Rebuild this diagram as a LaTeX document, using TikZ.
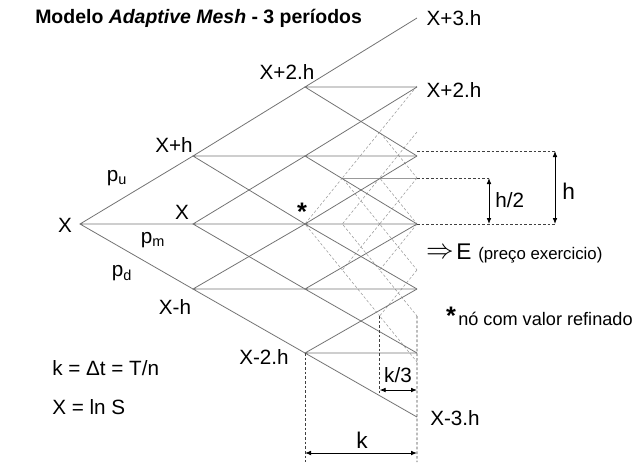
\documentclass[tikz,border=0pt]{standalone}
\usepackage{fontspec}
\setmainfont{Liberation Sans}
\usetikzlibrary{arrows.meta}

\begin{document}
\begin{tikzpicture}[
    x=0.75pt, y=-0.75pt,
    lattice/.style={draw=black!55, line width=0.6pt},
    fine/.style={draw=black!40, line width=0.4pt, dash pattern=on 2pt off 1.5pt},
    guide/.style={draw=black!75, line width=0.5pt, dash pattern=on 2pt off 1.5pt},
    dim/.style={{Latex[length=4.5pt,width=3.5pt]}-{Latex[length=4.5pt,width=3.5pt]}, line width=0.6pt},
    lbl/.style={inner sep=0pt, font=\fontsize{15.5}{18}\selectfont},
    small/.style={inner sep=0pt, font=\fontsize{12.6}{15}\selectfont},
    starmark/.style={inner sep=0pt, anchor=base, font=\fontsize{19}{20}\selectfont\bfseries}
]
  \useasboundingbox (0,0) rectangle (637,465);

  % coarse lattice: time columns and price rows
  \foreach \t/\x in {0/80,1/193,2/305,3/417}
    \foreach \j/\y in {3/18,2/87,1/156,0/224,-1/289,-2/353,-3/417}
      \coordinate (c\t\j) at (\x,\y);

  % refined mesh: k/3 in time, h/2 in price
  \foreach \m in {0,...,3}
    \foreach \n in {-3,...,3}
      \coordinate (f\m\n) at ({305+37.33*\m},{224-46*\n});

  \foreach \m in {0,1,2}{
    \pgfmathtruncatemacro\s{\m+1}
    \pgfmathtruncatemacro\lo{-\m}
    \foreach \n in {\lo,...,\m}{
      \pgfmathtruncatemacro\up{\n+1}
      \pgfmathtruncatemacro\dn{\n-1}
      \draw[fine] (f\s\up) -- (f\m\n) -- (f\s\dn);
    }
  }
  \draw[lattice, draw=black!40, line width=0.4pt] (f11) -- (f31);

  \foreach \t in {0,1,2}{
    \pgfmathtruncatemacro\s{\t+1}
    \pgfmathtruncatemacro\lo{-\t}
    \foreach \j in {\lo,...,\t}{
      \pgfmathtruncatemacro\up{\j+1}
      \pgfmathtruncatemacro\dn{\j-1}
      \draw[lattice] (c\s\up) -- (c\t\j) -- (c\s\dn) (c\t\j) -- (c\s\j);
    }
  }

  % title
  \node[anchor=west, inner sep=0pt, font=\fontsize{14.6}{18}\selectfont\bfseries] (title) at (35,18)
    {Modelo \textit{Adaptive Mesh} - 3 períodos};

  % node labels
  \node[lbl] (lx0) at (65,225) {X};
  \node[lbl] (lx1) at (182,212) {X};
  \node[lbl] (lup1) at (174,145) {X+h};
  \node[lbl] (lup2) at (287,72) {X+2.h};
  \node[lbl] (lup3) at (454,18) {X+3.h};
  \node[lbl] (lup2r) at (454,90) {X+2.h};
  \node[lbl] (ldn1) at (175,307) {X-h};
  \node[lbl] (ldn2) at (264,357) {X-2.h};
  \node[lbl] (ldn3) at (455,418) {X-3.h};
  \node[lbl] (pu) at (117,178) {p\textsubscript{u}};
  \node[lbl] (pm) at (153,240) {p\textsubscript{m}};
  \node[lbl] (pd) at (122,273) {p\textsubscript{d}};
  \node[starmark] (star) at (302,220) {*};

  % strike and legend
  \node[inner sep=0pt, font=\fontsize{20}{22}\selectfont] (arr) at (440,253) {$\Rightarrow$};
  \node[lbl, anchor=west, font=\fontsize{17}{20}\selectfont] (strike) at (456,252) {E};
  \node[small, anchor=west] (strikeTxt) at (478,255) {(preço exercicio)};
  \node[starmark] (legStar) at (451,324) {*};
  \node[inner sep=0pt, anchor=base west, font=\fontsize{13.6}{16}\selectfont] (legTxt) at (458,325) {nó com valor refinado};
  \node[lbl, anchor=west] (defk) at (52,368) {k = Δt = T/n};
  \node[lbl, anchor=west] (defx) at (52,407) {X = ln S};

  % dimension h and h/2
  \coordinate (hT0) at (417,151);
  \coordinate (hT) at (555,151);
  \coordinate (hB) at (555,224);
  \coordinate (qT) at (489,178);
  \coordinate (qB) at (489,224);
  \draw[guide] (hT0) -- (hT);
  \draw[guide] (f31) -- (qT);
  \draw[guide] (c30) -- (hB);
  \draw[dim] (hT) -- (hB);
  \draw[dim] (qT) -- (qB);
  \node[lbl, anchor=west, font=\fontsize{17}{20}\selectfont] (lh) at (562,191) {h};
  \node[lbl, anchor=west] (lh2) at (495,200) {h/2};

  % dimension k and k/3
  \coordinate (kL) at (305,462);
  \coordinate (kR) at (417,462);
  \coordinate (k3L) at ({305+2*37.33},395);
  \draw[guide] (c2-2) -- (kL);
  \draw[guide] (f3-2) -- (kR);
  \draw[guide] (f2-2) -- (k3L);
  \draw[dim] (305,453) -- (417,453);
  \draw[dim] ({305+2*37.33},390) -- (417,390);
  \node[lbl, font=\fontsize{17}{20}\selectfont] (lk) at (362,440) {k};
  \node[lbl] (lk3) at (398,375) {k/3};
\end{tikzpicture}
\end{document}
